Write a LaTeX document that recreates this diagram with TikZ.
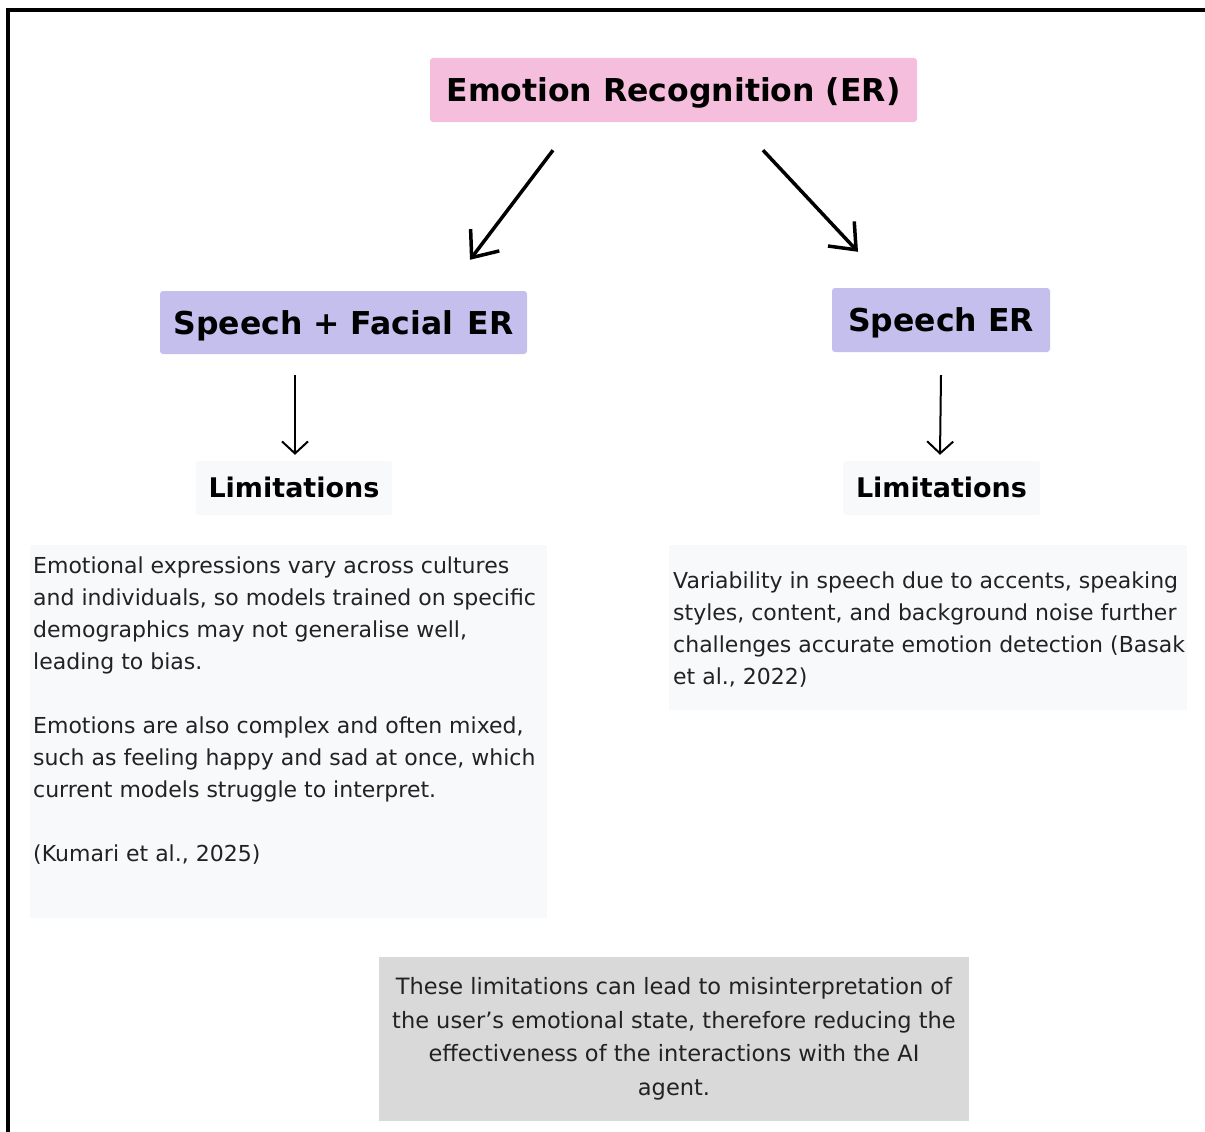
\documentclass[tikz,border=0pt]{standalone}
\usepackage{fontspec}
\setmainfont{DejaVu Sans}
\usepackage{tikz}
\usetikzlibrary{arrows.meta}
\definecolor{erpink}{RGB}{246,190,221}
\definecolor{erlav}{RGB}{197,191,238}
\definecolor{limgray}{RGB}{248,249,251}
\definecolor{sumgray}{RGB}{217,217,217}
\definecolor{txtdark}{RGB}{34,34,34}
\tikzset{
  headbox/.style={fill=#1, rounded corners=3pt, inner sep=0pt, text height=23pt, text depth=0pt, font=\bfseries\fontsize{31.5}{36}\selectfont},
  limbox/.style={fill=limgray, rounded corners=2pt, inner sep=0pt, minimum height=54pt, text height=19.7pt, text depth=0pt, font=\bfseries\fontsize{27}{30}\selectfont},
  txtbox/.style={fill=limgray, inner sep=0pt, anchor=north west, text=txtdark, font=\fontsize{22}{32}\selectfont},
  bigarr/.style={line width=3.5pt, -{Straight Barb[length=22pt,width=36pt,line width=3.5pt]}},
  smallarr/.style={line width=2pt, -{Straight Barb[length=12pt,width=26pt,line width=2pt]}}
}
\begin{document}
\begin{tikzpicture}[x=1pt,y=-1pt]
    \useasboundingbox (0,0) rectangle (1205,1132);
    \draw[line width=4pt] (8,1132) -- (8,10) -- (1205,10);
    \node[headbox=erpink, minimum width=487pt, minimum height=64pt] (er) at (673.5,90) {Emotion Recognition (ER)};
    \node[headbox=erlav, minimum width=367pt, minimum height=63pt] (sfer) at (343.5,322.5) {Speech + Facial\hspace{0.45em}ER};
    \node[headbox=erlav, minimum width=218pt, minimum height=64pt] (ser) at (941,320) {Speech ER};
    \node[limbox, minimum width=196pt] (liml) at (294,488) {Limitations};
    \node[limbox, minimum width=197pt] (limr) at (941.5,488) {Limitations};
    \node[txtbox] (txtl) at (30,545) {\parbox[c][373pt][t]{517pt}{\raggedright\leftskip=3pt\vspace*{12pt}%
      Emotional expressions vary across cultures\\
      and individuals, so models trained on specific\\
      demographics may not generalise well,\\
      leading to bias.\\[32pt]
      Emotions are also complex and often mixed,\\
      such as feeling happy and sad at once, which\\
      current models struggle to interpret.\\[32pt]
      (Kumari et al., 2025)}};
    \node[txtbox] (txtr) at (669,545) {\parbox[c][165pt][t]{518pt}{\raggedright\leftskip=4pt\vspace*{27pt}%
      Variability in speech due to accents, speaking\\
      styles, content, and background noise further\\
      challenges accurate emotion detection (Basak\\
      et al., 2022)}};
    \node[fill=sumgray, minimum width=590pt, minimum height=164pt, inner sep=0pt, align=center,
      text=txtdark, font=\fontsize{22.5}{33.5}\selectfont] (summ) at (674,1039) {These limitations can lead to misinterpretation of\\
      the user's emotional state, therefore reducing the\\
      effectiveness of the interactions with the AI\\
      agent.};
    \draw[bigarr] ([xshift=-120.5pt,yshift=-28pt]er.south) -- ([xshift=126.5pt,yshift=31pt]sfer.north);
    \draw[bigarr] ([xshift=89.5pt,yshift=-28pt]er.south) -- ([xshift=-83pt,yshift=36pt]ser.north);
    \draw[smallarr] ([xshift=-48.5pt,yshift=-21pt]sfer.south) -- ([xshift=1pt,yshift=6pt]liml.north);
    \draw[smallarr] ([yshift=-23pt]ser.south) -- ([xshift=-1.5pt,yshift=6pt]limr.north);
\end{tikzpicture}
\end{document}
